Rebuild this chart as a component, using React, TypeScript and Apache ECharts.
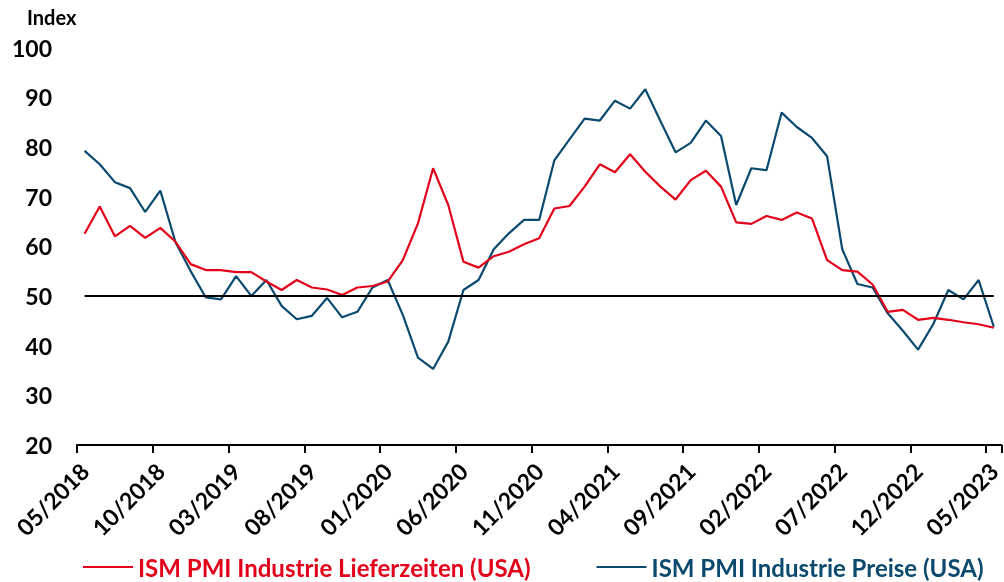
import React, { useEffect, useRef } from "react";
import * as echarts from "echarts";

const months: string[] = [];
for (let y = 2018; y <= 2023; y++) {
  for (let m = 1; m <= 12; m++) {
    if ((y === 2018 && m < 5) || (y === 2023 && m > 5)) continue;
    months.push(String(m).padStart(2, "0") + "/" + y);
  }
}

const deliveries = [
  62.5, 68.0, 62.0, 64.1, 61.7, 63.7, 60.9, 56.4, 55.2, 55.2,
  54.8, 54.8, 52.9, 51.2, 53.2, 51.7, 51.3, 50.2, 51.7, 52.0,
  52.9, 57.2, 64.6, 75.7, 68.3, 56.9, 55.7, 58.0, 58.9, 60.4,
  61.6, 67.6, 68.1, 72.0, 76.5, 74.9, 78.5, 75.0, 72.0, 69.4,
  73.3, 75.2, 72.0, 64.8, 64.5, 66.1, 65.3, 66.8, 65.6, 57.2,
  55.2, 54.9, 52.3, 46.8, 47.2, 45.2, 45.6, 45.2, 44.7, 44.3,
  43.6,
];

const prices = [
  79.2, 76.5, 72.9, 71.7, 66.9, 71.2, 60.8, 55.0, 49.7, 49.3,
  54.0, 50.0, 53.2, 48.0, 45.3, 46.0, 49.6, 45.7, 46.8, 51.7,
  53.2, 46.2, 37.6, 35.3, 40.8, 51.2, 53.2, 59.4, 62.6, 65.3,
  65.3, 77.3, 81.5, 85.7, 85.3, 89.3, 87.7, 91.6, 85.2, 78.9,
  80.8, 85.3, 82.2, 68.3, 75.7, 75.3, 86.9, 84.0, 81.8, 78.1,
  59.4, 52.4, 51.7, 46.5, 43.0, 39.2, 44.3, 51.2, 49.3, 53.2,
  43.8,
];

const threshold = 50;
const seriesNames = [
  "ISM PMI Industrie Lieferzeiten (USA)",
  "ISM PMI Industrie Preise (USA)",
];
const RED = "#E2001A";
const BLUE = "#0B4A6E";
const FONT = "Lato";

export default function App() {
  const ref = useRef<HTMLDivElement>(null);
  useEffect(() => {
    const chart = echarts.init(ref.current!, undefined, { renderer: "svg" });
    chart.setOption({
      animation: false,
      textStyle: { fontFamily: FONT },
      grid: { left: 77, width: 931, top: 47.5, height: 397.5 },
      graphic: [
        {
          type: "text",
          left: 27,
          top: 7,
          style: { text: "Index", fontFamily: FONT, fontWeight: "bold", fontSize: 20, fill: "#000" },
        },
      ],
      legend: {
        left: 78,
        top: 550,
        icon: "rect",
        itemWidth: 50,
        itemHeight: 2,
        itemGap: 66,
        textStyle: { fontFamily: FONT, fontWeight: "bold", fontSize: 24, lineHeight: 24 },
        data: [
          { name: seriesNames[0], textStyle: { color: RED } },
          { name: seriesNames[1], textStyle: { color: BLUE } },
        ],
      },
      xAxis: {
        type: "category",
        data: months,
        boundaryGap: true,
        axisLine: { show: true, lineStyle: { color: "#000", width: 2 } },
        axisTick: { show: true, interval: 4, length: 8, lineStyle: { color: "#000", width: 2 } },
        axisLabel: {
          interval: 4,
          rotate: 45,
          margin: 22,
          color: "#000",
          fontFamily: FONT,
          fontWeight: "bold",
          fontSize: 23,
        },
        splitLine: { show: false },
      },
      yAxis: {
        type: "value",
        min: 20,
        max: 100,
        interval: 10,
        axisLine: { show: false },
        axisTick: { show: false },
        splitLine: { show: false },
        axisLabel: { margin: 25, color: "#000", fontFamily: FONT, fontWeight: "bold", fontSize: 23 },
      },
      series: [
        {
          name: seriesNames[0],
          type: "line",
          data: deliveries,
          symbol: "none",
          lineStyle: { color: RED, width: 2.2 },
          itemStyle: { color: RED },
          z: 3,
          markLine: {
            silent: true,
            symbol: "none",
            label: { show: false },
            lineStyle: { color: "#000", width: 2.2, type: "solid" },
            data: [
              [
                { coord: [months[0], threshold] },
                { coord: [months[months.length - 1], threshold] },
              ],
            ],
          },
        },
        {
          name: seriesNames[1],
          type: "line",
          data: prices,
          symbol: "none",
          lineStyle: { color: BLUE, width: 2.2 },
          itemStyle: { color: BLUE },
          z: 2,
        },
      ],
    });
    return () => chart.dispose();
  }, []);
  return (
    <div
      ref={ref}
      style={{ position: "fixed", left: 0, top: 0, width: 1004, height: 582 }}
    />
  );
}
